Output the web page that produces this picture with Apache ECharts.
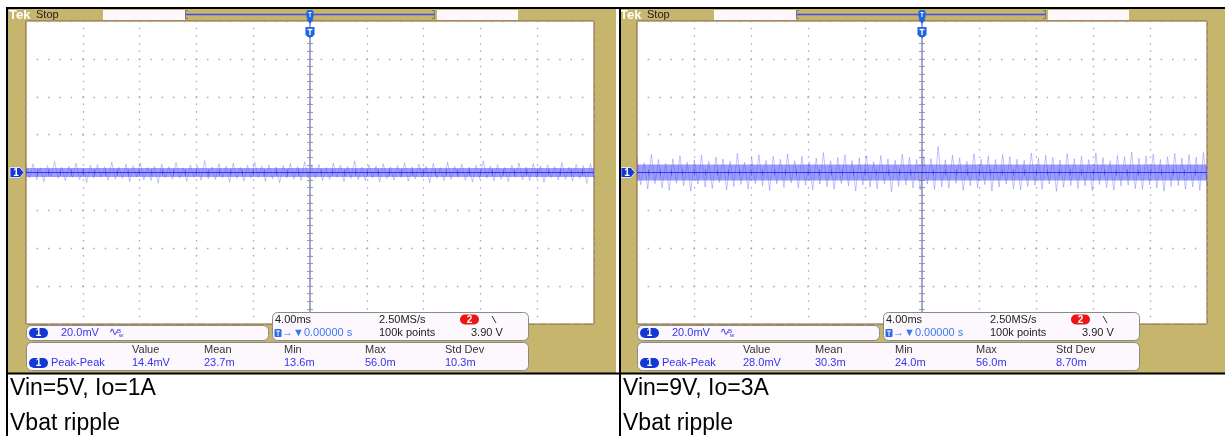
<!DOCTYPE html>
<html><head><meta charset="utf-8">
<script src="https://cdn.jsdelivr.net/npm/echarts@6/dist/echarts.min.js"></script>
<style>html,body{margin:0;padding:0;background:#fff}#c{width:1225px;height:436px}</style>
</head><body><div id="c"></div>
<script>
// ---------- data ----------
const timeRangeMs = [-20, 20];      // 10 div x 4.00 ms
const timeIntervalMs = 4;
const voltRangeMv = [-80, 80];      // 8 div x 20.0 mV
const voltIntervalMv = 20;
const traceLevelMv = 0;             // channel 1 offset marker level
const triggerTimeMs = 0;

const captions5V = ['Vin=5V, Io=1A', 'Vbat ripple'];
const captions9V = ['Vin=9V, Io=3A', 'Vbat ripple'];
const measLabels = ['Value', 'Mean', 'Min', 'Max', 'Std Dev'];
const meas5V = ['14.4mV', '23.7m', '13.6m', '56.0m', '10.3m'];
const meas9V = ['28.0mV', '30.3m', '24.0m', '56.0m', '8.70m'];
const chScale = '20.0mV';
const timebase = ['4.00ms', '2.50MS/s', '3.90 V'];
const timebase2 = ['0.00000 s', '100k points'];

// ripple samples (mV), estimated from the traces
const ripple5V = [
 3.4,-2.9,4.6,-3.8,2.5,-4.9,3.7,-2.2,5.8,-3.1,2.8,-4.4,3.3,-2.6,4.9,-3.7,2.1,-5.3,3.9,-2.8,
 4.2,-2.4,3.0,-4.1,5.5,-3.5,2.7,-3.2,4.4,-4.8,3.6,-2.3,5.1,-3.9,2.6,-4.2,3.2,-5.6,4.5,-2.7,
 3.1,-3.6,5.3,-3.0,2.4,-4.6,4.0,-2.5,3.5,-4.0,6.3,-3.3,2.9,-3.8,4.7,-2.7,3.3,-5.1,4.9,-3.2,
 2.7,-4.5,3.8,-2.9,5.4,-2.6,3.5,-4.7,4.1,-3.4,2.9,-5.4,3.8,-3.0,4.8,-3.5,3.1,-4.1,5.7,-3.0,
 3.6,-2.8,4.3,-4.3,2.6,-3.7,5.0,-2.4,3.9,-4.9,3.2,-3.1,6.0,-3.8,2.8,-4.4,4.1,-2.9,3.4,-5.0,
 4.6,-3.3,2.9,-4.0,3.7,-2.6,5.2,-4.6,3.0,-3.4,4.4,-2.8,3.3,-5.5,4.8,-3.1,2.6,-4.3,5.6,-3.6,
 3.2,-2.5,4.5,-4.1,2.8,-5.0,3.9,-3.2,6.2,-2.9,3.4,-4.5,4.2,-3.6,2.7,-4.8,3.8,-2.6,5.0,-3.9,
 2.9,-4.2,4.7,-3.0,3.5,-5.2,4.0,-2.7,3.1,-4.0,5.4,-3.5,2.8,-4.6,4.3,-3.1,3.6,-5.7,4.6,-2.8
];
const ripple9V = [
 7.8,-6.4,5.2,-8.7,9.6,-5.9,6.9,-8.1,4.8,-9.4,7.3,-5.6,8.8,-7.0,5.5,-9.9,6.6,-6.1,9.1,-7.7,
 5.9,-8.5,8.2,-5.3,7.1,-9.2,6.0,-7.4,10.2,-6.3,5.4,-8.8,7.9,-5.8,9.3,-7.2,6.4,-9.6,8.5,-6.0,
 7.0,-7.9,9.8,-5.5,6.2,-8.3,8.6,-6.7,5.7,-9.1,7.6,-6.2,10.5,-7.5,6.1,-8.9,8.0,-5.9,9.4,-7.1,
 6.3,-9.7,7.7,-6.5,9.0,-7.8,5.8,-8.6,8.9,-6.0,7.2,-10.1,6.5,-7.3,9.7,-6.6,8.1,-8.2,6.8,-9.3,
 8.4,-6.1,7.4,-9.0,13.8,-7.6,6.7,-8.4,9.2,-5.7,7.8,-9.5,6.0,-7.0,10.0,-8.0,7.1,-6.4,8.7,-9.8,
 6.9,-7.7,9.5,-6.2,8.3,-8.7,7.0,-9.2,6.4,-7.4,10.3,-6.8,7.5,-8.9,9.1,-6.1,8.0,-10.0,6.6,-7.9,
 9.9,-6.9,7.3,-8.5,8.6,-7.1,6.8,-9.6,10.4,-6.4,7.9,-8.0,6.2,-9.3,9.0,-7.2,8.4,-6.7,10.7,-8.6,
 7.6,-9.0,8.8,-6.5,9.7,-8.1,6.9,-9.9,8.3,-7.4,10.1,-6.9,7.7,-8.8,9.5,-7.6,8.2,-9.4,10.6,-7.3
];

// ---------- layout / style ----------
const F = 'Liberation Sans';
const TAN = '#c5b56d';
const BOXFILL = '#fdf8fd';
const BOXLINE = '#8a8a8a';
const BLUETXT = '#3434ec';
const OVAL = '#1238d6';
const panels = [
  {ox:0,   gridLeft:26,  gridW:568, tanX:8,   tanW:608, ripple:ripple5V, core:9,  meas:meas5V, cap:captions5V, capX:10},
  {ox:611, gridLeft:637, gridW:570, tanX:621, tanW:604, ripple:ripple9V, core:16, meas:meas9V, cap:captions9V, capX:623}
];
const GT = 21, GH = 303;

const chart = echarts.init(document.getElementById('c'), null, {renderer:'canvas'});

const grids = [], xAxes = [], yAxes = [], series = [];
const tickCol = '#9a9ab4', dotCol = '#a6a6c0';
panels.forEach((p, gi) => {
  grids.push({left:p.gridLeft, top:GT, width:p.gridW, height:GH, show:true,
    borderColor:'#8a5a2c', borderWidth:1, backgroundColor:'transparent'});
  const xBase = {type:'value', gridIndex:gi, min:timeRangeMs[0], max:timeRangeMs[1], interval:timeIntervalMs,
    axisLine:{show:false}, axisLabel:{show:false},
    axisTick:{show:true, inside:true, length:3, lineStyle:{color:tickCol}},
    minorTick:{show:true, splitNumber:5, length:3, lineStyle:{color:tickCol}}};
  xAxes.push(Object.assign({}, xBase, {position:'top',
    splitLine:{show:true, lineStyle:{color:dotCol, width:1.3, type:[1.5, GH/40-1.5], dashOffset:0.75}}}));
  xAxes.push(Object.assign({}, xBase, {position:'bottom', splitLine:{show:false}}));
  const yBase = {type:'value', gridIndex:gi, min:voltRangeMv[0], max:voltRangeMv[1], interval:voltIntervalMv,
    axisLine:{show:false}, axisLabel:{show:false},
    axisTick:{show:true, inside:true, length:3, lineStyle:{color:tickCol}},
    minorTick:{show:true, splitNumber:5, length:3, lineStyle:{color:tickCol}}};
  yAxes.push(Object.assign({}, yBase, {position:'left',
    splitLine:{show:true, lineStyle:{color:dotCol, width:1.3, type:[1.5, p.gridW/50-1.5], dashOffset:0.75}}}));
  yAxes.push(Object.assign({}, yBase, {position:'right', splitLine:{show:false}}));

  const n = p.ripple.length;
  const span = timeRangeMs[1] - timeRangeMs[0];
  const xi = gi*2, yi = gi*2;
  series.push({type:'line', xAxisIndex:xi, yAxisIndex:yi, silent:true, animation:false, showSymbol:false, z:4,
    data:[[timeRangeMs[0], traceLevelMv],[timeRangeMs[1], traceLevelMv]],
    lineStyle:{color:'rgba(60,60,245,0.5)', width:p.core}});
  series.push({type:'line', xAxisIndex:xi, yAxisIndex:yi, silent:true, animation:false, showSymbol:false, z:5,
    data:p.ripple.map((v,i)=>[timeRangeMs[0] + i*span/(n-1), traceLevelMv + v]),
    lineStyle:{color:'rgba(80,80,255,0.38)', width:0.9}});
  series.push({type:'line', xAxisIndex:xi, yAxisIndex:yi, silent:true, animation:false, showSymbol:false, z:6,
    data:[[timeRangeMs[0], traceLevelMv],[timeRangeMs[1], traceLevelMv]],
    lineStyle:{color:'rgba(20,20,255,0.75)', width:1.2},
    markLine:{silent:true, symbol:'none', animation:false, label:{show:false},
      lineStyle:{color:'#8a8cba', width:1.5, type:'solid'}, data:[{xAxis:triggerTimeMs}]}});
});

chart.setOption({animation:false, grid:grids, xAxis:xAxes, yAxis:yAxes, series:series});

// ---------- overlay (scope UI) ----------
function T(x, y, s, fill, size, o) {
  o = o || {};
  return {type:'text', z:o.z||30, x:x, y:y, silent:true, style:{text:s, fill:fill,
    font:(o.bold?'bold ':'') + size + 'px "' + (o.font||F) + '"',
    textAlign:o.align||'left', align:o.align||'left', textVerticalAlign:'middle', verticalAlign:'middle'}};
}
function R(x, y, w, h, fill, o) {
  o = o || {};
  return {type:'rect', z:o.z!=null?o.z:20, silent:true, shape:{x:x, y:y, width:w, height:h, r:o.r||0},
    style:{fill:fill, stroke:o.stroke||null, lineWidth:o.lw||1}};
}
function L(x1, y1, x2, y2, col, w, z) {
  return {type:'line', z:z||40, silent:true, shape:{x1:x1,y1:y1,x2:x2,y2:y2}, style:{stroke:col, lineWidth:w}};
}
function P(points, fill, o) {
  o = o || {};
  return {type:'polygon', z:o.z||30, silent:true, shape:{points:points}, style:{fill:fill, stroke:o.stroke||null, lineWidth:o.lw||1}};
}
function PL(points, col, w) {
  return {type:'polyline', z:30, silent:true, shape:{points:points}, style:{stroke:col, lineWidth:w, fill:null}};
}

const g = [];
panels.forEach((p, gi) => {
  const ox = p.ox;
  const xT = chart.convertToPixel({xAxisIndex:gi*2}, triggerTimeMs);
  const yC = chart.convertToPixel({yAxisIndex:gi*2}, traceLevelMv);
  // backgrounds
  g.push(R(p.tanX, 9, p.tanW, 364, TAN, {z:-20}));
  g.push(R(p.gridLeft, GT, p.gridW, GH, '#ffffff', {z:-19}));
  // header
  g.push(T(ox+9, 15, 'Tek', '#ffffff', 13, {bold:true}));
  g.push(T(ox+36, 15, 'Stop', '#1c1c1c', 11));
  g.push(R(ox+103, 10, 82, 10, BOXFILL));
  g.push(R(ox+437, 10, 81, 10, BOXFILL));
  g.push(L(ox+185, 14.5, ox+435, 14.5, '#3d4ff0', 1.5, 25));
  g.push(PL([[ox+188,10.5],[ox+185.5,10.5],[ox+185.5,18.5],[ox+188,18.5]], '#777', 1));
  g.push(PL([[ox+432,10.5],[ox+434.5,10.5],[ox+434.5,18.5],[ox+432,18.5]], '#777', 1));
  // trigger position marker
  g.push(R(xT-3.5, 10, 7, 9, '#1f62e6', {r:2, z:32}));
  g.push(L(xT-1.5, 12.5, xT+1.5, 12.5, '#ffffff', 1, 33));
  g.push(L(xT, 12.5, xT, 17, '#ffffff', 1, 33));
  g.push(P([[xT-3.5,19],[xT+3.5,19],[xT,24]], '#1f62e6', {z:32}));
  g.push(P([[xT-4.5,27],[xT+4.5,27],[xT+4.5,35],[xT,38],[xT-4.5,35]], '#1f62e6', {z:32}));
  g.push(L(xT-2.5, 29.5, xT+2.5, 29.5, '#ffffff', 1.4, 33));
  g.push(L(xT, 29.5, xT, 35, '#ffffff', 1.4, 33));
  // channel 1 ground marker
  g.push(P([[ox+10,yC-5],[ox+20,yC-5],[ox+24,yC],[ox+20,yC+5],[ox+10,yC+5]], '#1238d6', {z:32, stroke:'#ffffff', lw:0.8}));
  g.push(T(ox+16, yC+0.5, '1', '#ffffff', 10, {bold:true, align:'center', z:33}));
  // channel box
  g.push(R(ox+26.5, 325.5, 242, 15, BOXFILL, {r:5, stroke:BOXLINE}));
  g.push(R(ox+29, 328, 19, 10, OVAL, {r:5, z:31}));
  g.push(T(ox+38.5, 333.5, '1', '#ffffff', 10, {bold:true, align:'center', z:32}));
  g.push(T(ox+61, 333, chScale, BLUETXT, 11));
  g.push(T(ox+109, 332.5, '\u223F', BLUETXT, 11, {font:'DejaVu Sans'}));
  g.push(T(ox+117, 331, 'B', BLUETXT, 6));
  g.push(T(ox+119, 335, 'w', BLUETXT, 6));
  // timebase box
  g.push(R(ox+272.5, 312.5, 256, 28, BOXFILL, {r:5, stroke:BOXLINE}));
  g.push(T(ox+275, 320, timebase[0], '#222', 11));
  g.push(T(ox+379, 320, timebase[1], '#222', 11));
  g.push(R(ox+460, 314.5, 19, 10, '#ee1414', {r:5, z:31}));
  g.push(T(ox+469.5, 320, '2', '#ffffff', 10, {bold:true, align:'center', z:32}));
  g.push(L(ox+492, 316, ox+496, 323, '#333', 1, 32));
  g.push(R(ox+274.5, 329, 7, 8, '#2a6ae8', {r:1, z:31}));
  g.push(L(ox+276, 331, ox+280, 331, '#ffffff', 1, 32));
  g.push(L(ox+278, 331, ox+278, 336, '#ffffff', 1, 32));
  g.push(T(ox+282, 333, '\u2192\u25BC' + timebase2[0], '#3a78f0', 11));
  g.push(T(ox+379, 333, timebase2[1], '#222', 11));
  g.push(T(ox+471, 333, timebase[2], '#222', 11));
  // measurement box
  g.push(R(ox+26.5, 342.5, 502, 28, BOXFILL, {r:5, stroke:BOXLINE}));
  const mx = [132, 204, 284, 365, 445];
  measLabels.forEach((s, i) => g.push(T(ox+mx[i], 350, s, '#333', 11)));
  p.meas.forEach((s, i) => g.push(T(ox+mx[i], 363, s, BLUETXT, 11)));
  g.push(R(ox+29, 358, 19, 10, OVAL, {r:5, z:31}));
  g.push(T(ox+38.5, 363.5, '1', '#ffffff', 10, {bold:true, align:'center', z:32}));
  g.push(T(ox+51, 363, 'Peak-Peak', BLUETXT, 11));
  // captions
  g.push(T(p.capX, 389, p.cap[0], '#000', 23));
  g.push(T(p.capX, 424, p.cap[1], '#000', 23));
});
// table frame lines
g.push(L(6, 8, 1225, 8, '#000', 2, 50));
g.push(L(7, 8, 7, 436, '#000', 2, 50));
g.push(L(620, 8, 620, 436, '#000', 2, 50));
g.push(L(6, 373.5, 1225, 373.5, '#000', 2, 50));

chart.setOption({graphic:{elements:g}});
</script>
</body></html>
